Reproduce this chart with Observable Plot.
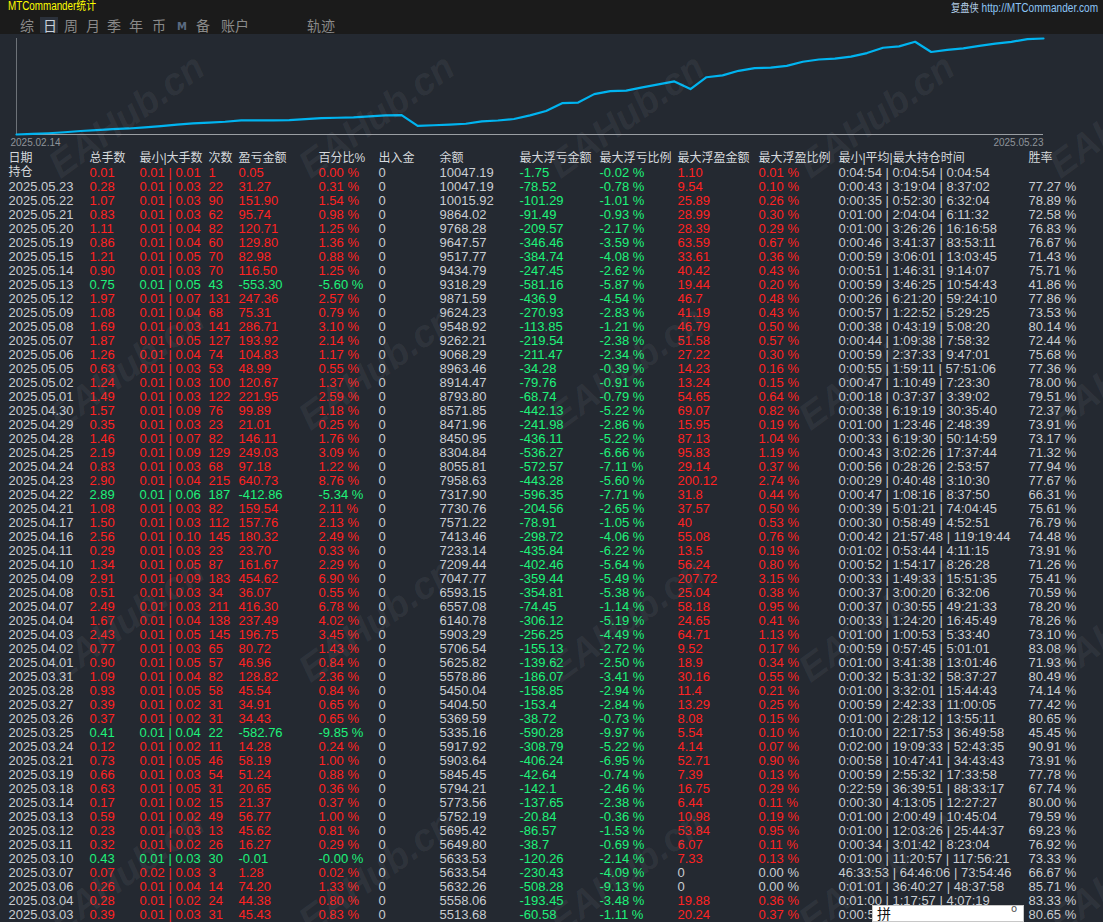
<!DOCTYPE html>
<html><head><meta charset="utf-8">
<script src="https://cdn.jsdelivr.net/npm/d3@7"></script>
<script src="https://cdn.jsdelivr.net/npm/@observablehq/plot@0.6"></script>
<style>
html,body{margin:0;padding:0;background:#242931;}
#page{position:relative;width:1103px;height:922px;overflow:hidden;background:#242931;font-family:"Liberation Sans",Arial,"Noto Sans CJK SC",sans-serif;}
#topbar{position:absolute;left:0;top:0;width:1103px;height:34px;background:#1b1b1b;}
.t{position:absolute;white-space:nowrap;}
#title{left:8px;top:0px;font-size:12px;line-height:12px;color:#ffff00;transform:scaleX(0.82);transform-origin:0 0;}
#site{right:5px;top:1px;font-size:12px;line-height:12px;color:#8cc4f5;transform:scaleX(0.84);transform-origin:100% 0;}
#site span{color:#b4cfe8;font-family:"Noto Sans CJK SC",sans-serif;font-size:11px;}
.tab{top:17px;font-size:14px;line-height:16px;color:#8a8a8a;font-family:"Noto Sans CJK SC",sans-serif;}
#tabsel{position:absolute;left:40px;top:17px;width:18px;height:16px;background:#2b313b;}
#chart{position:absolute;left:0;top:34px;}
#table{position:absolute;left:0;top:148px;}
#wm{position:absolute;left:0;top:0;pointer-events:none;}
#ime{position:absolute;left:872px;top:905px;width:152px;height:17px;background:#fff;border:1px solid #c8c8c8;box-sizing:border-box;}
#ime .a{position:absolute;left:4px;top:-1px;font-size:14px;line-height:16px;color:#111;font-family:"Noto Sans CJK SC",sans-serif;}
#ime .b{position:absolute;right:6px;top:-3px;font-size:10px;color:#555;font-family:"DejaVu Sans",sans-serif;}
svg{display:block;}
</style></head><body>
<div id="page">
  <div id="topbar">
    <div class="t" id="title">MTCommander统计</div>
    <div class="t" id="site"><span>复盘侠</span> http://MTCommander.com</div>
    <div id="tabsel"></div>
  </div>
  <div id="chart"></div>
  <div id="table"></div>
  <svg id="wm" width="1103" height="922"></svg>
  <div id="ime"><span class="a">拼</span><span class="b">o</span></div>
</div>
<script>
// ---------- data ----------
const tabs = ["综","日","周","月","季","年","币","M","备","账户","轨迹"];
const headers = ["日期","总手数","最小|大手数","次数","盈亏金额","百分比%","出入金","余额","最大浮亏金额","最大浮亏比例","最大浮盈金额","最大浮盈比例","最小|平均|最大持仓时间","胜率"];
const holdingLabel = "持仓";
const holdingRow = {lots:0.01, minMax:"0.01 | 0.01", count:1, pnl:0.05, pct:0.00, inout:0, balance:10047.19, floatLoss:-1.75, floatLossPct:-0.02, floatProfit:1.10, floatProfitPct:0.01, hold:"0:04:54 | 0:04:54 | 0:04:54"};

const dates = ["2025.05.23","2025.05.22","2025.05.21","2025.05.20","2025.05.19","2025.05.15","2025.05.14","2025.05.13","2025.05.12","2025.05.09","2025.05.08","2025.05.07","2025.05.06","2025.05.05","2025.05.02","2025.05.01","2025.04.30","2025.04.29","2025.04.28","2025.04.25","2025.04.24","2025.04.23","2025.04.22","2025.04.21","2025.04.17","2025.04.16","2025.04.11","2025.04.10","2025.04.09","2025.04.08","2025.04.07","2025.04.04","2025.04.03","2025.04.02","2025.04.01","2025.03.31","2025.03.28","2025.03.27","2025.03.26","2025.03.25","2025.03.24","2025.03.21","2025.03.19","2025.03.18","2025.03.14","2025.03.13","2025.03.12","2025.03.11","2025.03.10","2025.03.07","2025.03.06","2025.03.04","2025.03.03"];
const totalLots = [0.28,1.07,0.83,1.11,0.86,1.21,0.90,0.75,1.97,1.08,1.69,1.87,1.26,0.63,1.24,1.49,1.57,0.35,1.46,2.19,0.83,2.90,2.89,1.08,1.50,2.56,0.29,1.34,2.91,0.51,2.49,1.67,2.43,0.77,0.90,1.09,0.93,0.39,0.37,0.41,0.12,0.73,0.66,0.63,0.17,0.59,0.23,0.32,0.43,0.07,0.26,0.28,0.39];
const minMaxLots = ["0.01 | 0.03","0.01 | 0.03","0.01 | 0.03","0.01 | 0.04","0.01 | 0.04","0.01 | 0.05","0.01 | 0.03","0.01 | 0.05","0.01 | 0.07","0.01 | 0.04","0.01 | 0.03","0.01 | 0.05","0.01 | 0.04","0.01 | 0.03","0.01 | 0.03","0.01 | 0.03","0.01 | 0.09","0.01 | 0.03","0.01 | 0.07","0.01 | 0.09","0.01 | 0.03","0.01 | 0.04","0.01 | 0.06","0.01 | 0.03","0.01 | 0.03","0.01 | 0.10","0.01 | 0.03","0.01 | 0.05","0.01 | 0.09","0.01 | 0.03","0.01 | 0.03","0.01 | 0.04","0.01 | 0.05","0.01 | 0.03","0.01 | 0.05","0.01 | 0.04","0.01 | 0.05","0.01 | 0.02","0.01 | 0.02","0.01 | 0.04","0.01 | 0.02","0.01 | 0.05","0.01 | 0.03","0.01 | 0.05","0.01 | 0.02","0.01 | 0.02","0.01 | 0.03","0.01 | 0.02","0.01 | 0.03","0.02 | 0.03","0.01 | 0.04","0.01 | 0.02","0.01 | 0.03"];
const tradeCount = [22,90,62,82,60,70,70,43,131,68,141,127,74,53,100,122,76,23,82,129,68,215,187,82,112,145,23,87,183,34,211,138,145,65,57,82,58,31,31,22,11,46,54,31,15,49,13,26,30,3,14,24,31];
const pnl = [31.27,151.90,95.74,120.71,129.80,82.98,116.50,-553.30,247.36,75.31,286.71,193.92,104.83,48.99,120.67,221.95,99.89,21.01,146.11,249.03,97.18,640.73,-412.86,159.54,157.76,180.32,23.70,161.67,454.62,36.07,416.30,237.49,196.75,80.72,46.96,128.82,45.54,34.91,34.43,-582.76,14.28,58.19,51.24,20.65,21.37,56.77,45.62,16.27,-0.01,1.28,74.20,44.38,45.43];
const pnlPct = [0.31,1.54,0.98,1.25,1.36,0.88,1.25,-5.60,2.57,0.79,3.10,2.14,1.17,0.55,1.37,2.59,1.18,0.25,1.76,3.09,1.22,8.76,-5.34,2.11,2.13,2.49,0.33,2.29,6.90,0.55,6.78,4.02,3.45,1.43,0.84,2.36,0.84,0.65,0.65,-9.85,0.24,1.00,0.88,0.36,0.37,1.00,0.81,0.29,-0.00,0.02,1.33,0.80,0.83];
const inOut = new Array(53).fill(0);
const balance = [10047.19,10015.92,9864.02,9768.28,9647.57,9517.77,9434.79,9318.29,9871.59,9624.23,9548.92,9262.21,9068.29,8963.46,8914.47,8793.80,8571.85,8471.96,8450.95,8304.84,8055.81,7958.63,7317.90,7730.76,7571.22,7413.46,7233.14,7209.44,7047.77,6593.15,6557.08,6140.78,5903.29,5706.54,5625.82,5578.86,5450.04,5404.50,5369.59,5335.16,5917.92,5903.64,5845.45,5794.21,5773.56,5752.19,5695.42,5649.80,5633.53,5633.54,5632.26,5558.06,5513.68];
const floatLoss = [-78.52,-101.29,-91.49,-209.57,-346.46,-384.74,-247.45,-581.16,-436.9,-270.93,-113.85,-219.54,-211.47,-34.28,-79.76,-68.74,-442.13,-241.98,-436.11,-536.27,-572.57,-443.28,-596.35,-204.56,-78.91,-298.72,-435.84,-402.46,-359.44,-354.81,-74.45,-306.12,-256.25,-155.13,-139.62,-186.07,-158.85,-153.4,-38.72,-590.28,-308.79,-406.24,-42.64,-142.1,-137.65,-20.84,-86.57,-38.7,-120.26,-230.43,-508.28,-193.45,-60.58];
const floatLossPct = [-0.78,-1.01,-0.93,-2.17,-3.59,-4.08,-2.62,-5.87,-4.54,-2.83,-1.21,-2.38,-2.34,-0.39,-0.91,-0.79,-5.22,-2.86,-5.22,-6.66,-7.11,-5.60,-7.71,-2.65,-1.05,-4.06,-6.22,-5.64,-5.49,-5.38,-1.14,-5.19,-4.49,-2.72,-2.50,-3.41,-2.94,-2.84,-0.73,-9.97,-5.22,-6.95,-0.74,-2.46,-2.38,-0.36,-1.53,-0.69,-2.14,-4.09,-9.13,-3.48,-1.11];
const floatProfit = [9.54,25.89,28.99,28.39,63.59,33.61,40.42,19.44,46.7,41.19,46.79,51.58,27.22,14.23,13.24,54.65,69.07,15.95,87.13,95.83,29.14,200.12,31.8,37.57,40,55.08,13.5,56.24,207.72,25.04,58.18,24.65,64.71,9.52,18.9,30.16,11.4,13.29,8.08,5.54,4.14,52.71,7.39,16.75,6.44,10.98,53.84,6.07,7.33,0,0,19.88,20.24];
const floatProfitPct = [0.10,0.26,0.30,0.29,0.67,0.36,0.43,0.20,0.48,0.43,0.50,0.57,0.30,0.16,0.15,0.64,0.82,0.19,1.04,1.19,0.37,2.74,0.44,0.50,0.53,0.76,0.19,0.80,3.15,0.38,0.95,0.41,1.13,0.17,0.34,0.55,0.21,0.25,0.15,0.10,0.07,0.90,0.13,0.29,0.11,0.19,0.95,0.11,0.13,0.00,0.00,0.36,0.37];
const holdTimes = ["0:00:43 | 3:19:04 | 8:37:02","0:00:35 | 0:52:30 | 6:32:04","0:01:00 | 2:04:04 | 6:11:32","0:01:00 | 3:26:26 | 16:16:58","0:00:46 | 3:41:37 | 83:53:11","0:00:59 | 3:06:01 | 13:03:45","0:00:51 | 1:46:31 | 9:14:07","0:00:59 | 3:46:25 | 10:54:43","0:00:26 | 6:21:20 | 59:24:10","0:00:57 | 1:22:52 | 5:29:25","0:00:38 | 0:43:19 | 5:08:20","0:00:44 | 1:09:38 | 7:58:32","0:00:59 | 2:37:33 | 9:47:01","0:00:55 | 1:59:11 | 57:51:06","0:00:47 | 1:10:49 | 7:23:30","0:00:18 | 0:37:37 | 3:39:02","0:00:38 | 6:19:19 | 30:35:40","0:01:00 | 1:23:46 | 2:48:39","0:00:33 | 6:19:30 | 50:14:59","0:00:43 | 3:02:26 | 17:37:44","0:00:56 | 0:28:26 | 2:53:57","0:00:29 | 0:40:48 | 3:10:30","0:00:47 | 1:08:16 | 8:37:50","0:00:39 | 5:01:21 | 74:04:45","0:00:30 | 0:58:49 | 4:52:51","0:00:42 | 21:57:48 | 119:19:44","0:01:02 | 0:53:44 | 4:11:15","0:00:52 | 1:54:17 | 8:26:28","0:00:33 | 1:49:33 | 15:51:35","0:00:37 | 3:00:20 | 6:32:06","0:00:37 | 0:30:55 | 49:21:33","0:00:33 | 1:24:20 | 16:45:49","0:01:00 | 1:00:53 | 5:33:40","0:00:59 | 0:57:45 | 5:01:01","0:01:00 | 3:41:38 | 13:01:46","0:00:32 | 5:31:32 | 58:37:27","0:01:00 | 3:32:01 | 15:44:43","0:00:59 | 2:42:33 | 11:00:05","0:01:00 | 2:28:12 | 13:55:11","0:10:00 | 22:17:53 | 36:49:58","0:02:00 | 19:09:33 | 52:43:35","0:00:58 | 10:47:41 | 34:43:43","0:00:59 | 2:55:32 | 17:33:58","0:22:59 | 36:39:51 | 88:33:17","0:00:30 | 4:13:05 | 12:27:27","0:01:00 | 2:00:49 | 10:45:04","0:01:00 | 12:03:26 | 25:44:37","0:00:34 | 3:01:42 | 8:23:04","0:01:00 | 11:20:57 | 117:56:21","46:33:53 | 64:46:06 | 73:54:46","0:01:01 | 36:40:27 | 48:37:58","0:01:00 | 1:17:57 | 4:07:19","0:00:59 | 1:02:33 | 5:12:40"];
const winRate = [77.27,78.89,72.58,76.83,76.67,71.43,75.71,41.86,77.86,73.53,80.14,72.44,75.68,77.36,78.00,79.51,72.37,73.91,73.17,71.32,77.94,77.67,66.31,75.61,76.79,74.48,73.91,71.26,75.41,70.59,78.20,78.26,73.10,83.08,71.93,80.49,74.14,77.42,80.65,45.45,90.91,73.91,77.78,67.74,80.00,79.59,69.23,76.92,73.33,66.67,85.71,83.33,80.65];

// balance curve before 2025.03.03 (estimated)
const chartStartLabel = "2025.02.14";
const earlyBalance = [4870, 4905, 4938, 4990, 5060, 5110, 5160, 5195, 5250, 5320, 5405, 5468.25];

// ---------- layout ----------
const colX = [8, 89, 139, 208, 238, 318, 378, 439, 519, 599, 677, 758, 838, 1028];
const tabX = [20, 43, 64, 86, 107, 129, 152, 177, 196, 221, 307];
const RED = "#ff2222", GREEN = "#1ef27a", PLAIN = "#c9cdd2", HEAD = "#d6d9dd";
const NUMFONT = '"Liberation Sans",Arial,sans-serif';
const CJKFONT = '"Liberation Sans","Noto Sans CJK SC",sans-serif';
const NARROW = 0.82;

// condense number texts horizontally (Arial Narrow look), keeping their anchor
function condense(svg, selector, s) {
  d3.select(svg).selectAll(selector).each(function() {
    const el = d3.select(this);
    const tr = el.attr("transform");
    const x = +el.attr("x") || 0;
    const base = tr ? tr + " " : "";
    el.attr("transform", `${base}translate(${x * (1 - s)},0) scale(${s},1)`);
  });
}

// tabs
const topBar = document.getElementById("topbar");
tabs.forEach((t, i) => {
  const d = document.createElement("div");
  d.className = "t tab";
  d.textContent = t;
  d.style.left = tabX[i] + "px";
  if (t === "日") d.style.color = "#c9d1db";
  if (t === "M") { d.style.fontSize = "10px"; d.style.color = "#5b6b82"; d.style.fontFamily = "DejaVu Sans"; d.style.fontWeight = "bold"; d.style.top = "19px"; }
  topBar.appendChild(d);
});

// ---------- chart ----------
const series = earlyBalance.concat(balance.slice().reverse()).map((v, i) => ({i, v}));
const n = series.length;
const yMin = d3.min(series, d => d.v), yMax = d3.max(series, d => d.v);
const chart = Plot.plot({
  width: 1103, height: 114,
  marginLeft: 16, marginRight: 60, marginTop: 4, marginBottom: 14,
  style: {background: "transparent", overflow: "visible"},
  x: {domain: [0, n - 1], axis: null},
  y: {domain: [yMin, yMax], axis: null},
  marks: [
    Plot.ruleX([0], {stroke: "#6d7278", strokeWidth: 1}),
    Plot.ruleY([yMin], {stroke: "#9a9ea3", strokeWidth: 1}),
    Plot.line(series, {x: "i", y: "v", stroke: "#00b4f0", strokeWidth: 2.2}),
    Plot.text([chartStartLabel], {x: 0, y: yMin, text: d => d, dy: 8, dx: -6, textAnchor: "start", fill: "#8f949a", fontSize: 10, fontFamily: NUMFONT, ariaLabel: "ticklabel"}),
    Plot.text([dates[0]], {x: n - 1, y: yMin, text: d => d, dy: 8, textAnchor: "end", fill: "#8f949a", fontSize: 10, fontFamily: NUMFONT, ariaLabel: "ticklabel"})
  ]
});
condense(chart, 'g[aria-label="ticklabel"] text', 0.8);
document.getElementById("chart").appendChild(chart);

// ---------- table ----------
const f2 = v => v.toFixed(2);
const pct = (v, neg) => (neg || v < 0 ? "-" : "") + Math.abs(v).toFixed(2) + " %";
const rowKeys = ["header", "holding", ...dates];
const heads = [];
const cells = [];
headers.forEach((h, c) => heads.push({r: "header", c, t: h, tone: "head"}));
heads.push({r: "holding", c: 0, t: holdingLabel, tone: "head"});
{
  const h = holdingRow, tone = h.pnl < 0 ? "down" : "up";
  const vals = [null,[f2(h.lots),tone],[h.minMax,tone],[String(h.count),tone],[f2(h.pnl),tone],[pct(h.pct, h.pnl<0),tone],[String(h.inout),"plain"],[f2(h.balance),"plain"],[String(h.floatLoss),"down"],[pct(h.floatLossPct),"down"],[f2(h.floatProfit),"up"],[pct(h.floatProfitPct),"up"],[h.hold,"plain"]];
  vals.forEach((v, c) => { if (v) cells.push({r: "holding", c, t: v[0], tone: v[1]}); });
}
dates.forEach((d, k) => {
  const tone = pnl[k] < 0 ? "down" : "up";
  const fpTone = floatProfit[k] === 0 ? "plain" : "up";
  const vals = [
    [d, "plain"],
    [f2(totalLots[k]), tone],
    [minMaxLots[k], tone],
    [String(tradeCount[k]), tone],
    [f2(pnl[k]), tone],
    [pct(pnlPct[k], pnl[k] < 0), tone],
    [String(inOut[k]), "plain"],
    [f2(balance[k]), "plain"],
    [String(floatLoss[k]), "down"],
    [pct(floatLossPct[k]), "down"],
    [String(floatProfit[k]), fpTone],
    [pct(floatProfitPct[k]), fpTone],
    [holdTimes[k], "plain"],
    [winRate[k].toFixed(2) + " %", "plain"]
  ];
  vals.forEach(([t, tn], c) => cells.push({r: d, c, t, tone: tn}));
});

const table = Plot.plot({
  width: 1103, height: 774,
  margin: 0,
  style: {background: "transparent"},
  x: {type: "linear", domain: [0, 1103], range: [0, 1103], axis: null},
  y: {type: "band", domain: rowKeys, range: [3, 773], padding: 0, axis: null},
  color: {type: "ordinal", domain: ["up", "down", "plain", "head"], range: [RED, GREEN, PLAIN, HEAD]},
  marks: [
    Plot.text(heads, {x: d => colX[d.c], y: "r", text: "t", fill: "tone", textAnchor: "start", fontSize: 12, fontFamily: CJKFONT, ariaLabel: "heads"}),
    Plot.text(cells, {x: d => colX[d.c], y: "r", text: "t", fill: "tone", textAnchor: "start", fontSize: 13, fontFamily: NUMFONT, ariaLabel: "cells"})
  ]
});
condense(table, 'g[aria-label="cells"] text', NARROW);
document.getElementById("table").appendChild(table);

// ---------- watermark ----------
const wm = d3.select("#wm");
const wmRows = [118, 370, 622, 874], wmCols = [128, 378, 628, 878, 1128];
wmRows.forEach(y => wmCols.forEach(x => {
  wm.append("text").attr("x", 0).attr("y", 0)
    .attr("transform", `translate(${x},${y}) rotate(-36)`)
    .attr("text-anchor", "middle").attr("dominant-baseline", "middle")
    .attr("font-family", "Liberation Sans, Arial, sans-serif")
    .attr("font-weight", "bold").attr("font-style", "italic").attr("font-size", 38)
    .attr("fill", "rgba(200,205,212,0.07)")
    .text("EAHub.cn");
}));
</script>
</body></html>
